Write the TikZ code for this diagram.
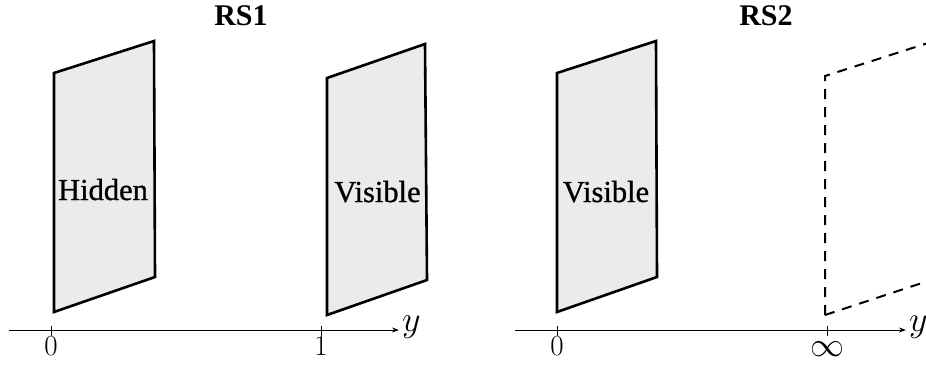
\RequirePackage{fix-cm}
\documentclass[tikz,border=0pt]{standalone}
\usepackage{fontspec}
\setmainfont{Liberation Serif}
\newfontfamily\heavyserif{Liberation Serif}[FakeBold=0.9]
\usetikzlibrary{arrows.meta}
\definecolor{panelgray}{RGB}{235,235,235}
\tikzset{
  panel/.style={draw=black, fill=panelgray, line width=2.6pt, line join=miter},
  ghost/.style={draw=black, line width=2pt, dash pattern=on 10pt off 8pt},
  axis/.style={line width=0.9pt, -{Stealth[length=7pt,width=5pt]}},
  tickmark/.style={line width=0.9pt},
  title/.style={font=\fontsize{30}{34}\selectfont\bfseries, inner sep=0pt},
  panellabel/.style={font=\heavyserif\fontsize{30.5}{34}\selectfont, inner sep=0pt},
  axislabel/.style={font=\fontsize{29}{33}\selectfont, inner sep=0pt},
  varlabel/.style={font=\fontsize{36}{40}\selectfont, inner sep=0pt}
}
\begin{document}
\begin{tikzpicture}[x=1pt,y=-1pt]
\useasboundingbox (0,0) rectangle (926,368);
\clip (0,0) rectangle (926,368);
% left panel RS1
\node[title, anchor=base] (t1) at (241,25) {RS1};
\draw[panel] (54,312) -- (54,73) -- (154,41) -- (155,277) -- cycle;
\draw[panel] (327,315) -- (327,78) -- (425,44) -- (427,280) -- cycle;
\node[panellabel, anchor=base] (hid) at (103,200) {Hidden};
\node[panellabel, anchor=base] (vis1) at (377.5,202) {Visible};
\coordinate (a1s) at (9,330);
\coordinate (a1e) at (399,330);
\draw[axis] (a1s) -- (a1e);
\coordinate (k0) at (51,330);
\coordinate (k1) at (321,330);
\draw[tickmark] ([yshift=-6]k0) -- ([yshift=4]k0);
\draw[tickmark] ([yshift=-6]k1) -- ([yshift=4]k1);
\node[axislabel, anchor=north] (l0) at (51,337) {$0$};
\node[axislabel, anchor=north] (l1) at (321,337) {$1$};
\node[varlabel, anchor=base west] (ly1) at (402,331) {$y$};
% right panel RS2
\node[title, anchor=base] (t2) at (766,25) {RS2};
\draw[panel] (557,312) -- (557,73) -- (656,41) -- (657,277) -- cycle;
\node[panellabel, anchor=base] (vis2) at (606,202) {Visible};
\draw[ghost] (825,315) -- (825,76) -- (928,43);
\draw[ghost] (825,315) -- (928,281);
\coordinate (a2s) at (515,330);
\coordinate (a2e) at (906,330);
\draw[axis] (a2s) -- (a2e);
\coordinate (k2) at (557,330);
\coordinate (k3) at (827,330);
\draw[tickmark] ([yshift=-6]k2) -- ([yshift=4]k2);
\draw[tickmark] ([yshift=-6]k3) -- ([yshift=4]k3);
\node[axislabel, anchor=north] (l2) at (557,337) {$0$};
\node[font=\fontsize{34}{38}\selectfont, inner sep=0pt] (linf) at (827,349) {$\infty$};
\node[varlabel, anchor=base west] (ly2) at (909,331) {$y$};
\end{tikzpicture}
\end{document}
